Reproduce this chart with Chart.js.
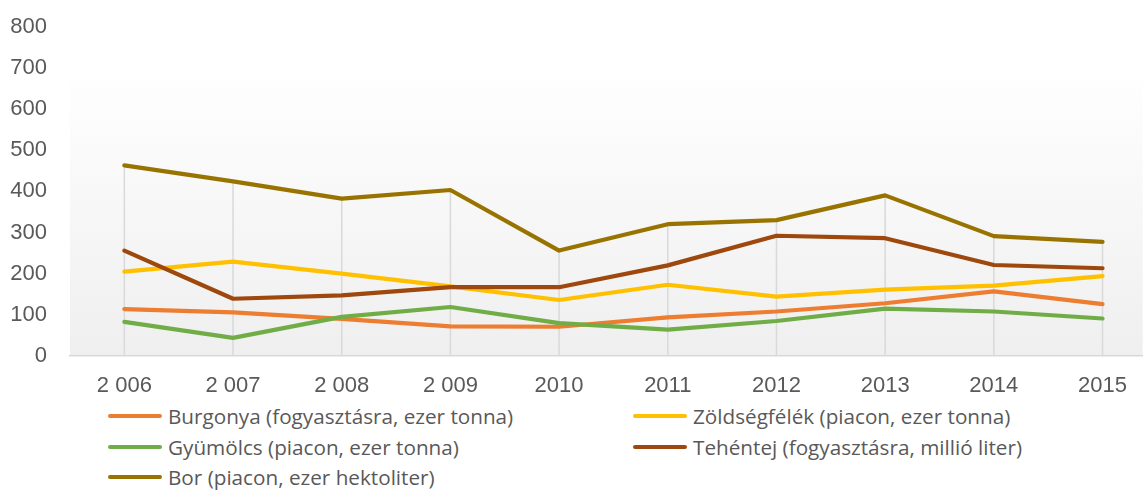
<!DOCTYPE html>
<html>
<head>
<meta charset="utf-8">
<script src="https://cdn.jsdelivr.net/npm/chart.js@4.4.1/dist/chart.umd.min.js"></script>
<style>
  html, body { margin: 0; padding: 0; background: #fff; }
  #wrap { position: relative; width: 1144px; height: 491px; overflow: hidden; }
  #chart { position: absolute; left: 0; top: 0; }
  #legend {
    position: absolute; left: 108px; top: 401px;
    display: grid; grid-template-columns: 525px 420px;
    grid-auto-rows: 30.5px;
    font-family: "Open Sans", sans-serif; font-size: 20.7px; color: #595959;
  }
  .item { display: flex; align-items: center; white-space: nowrap; }
  .swatch { display: inline-block; width: 54px; height: 4px; border-radius: 2px; margin-right: 6px; }
</style>
</head>
<body>
<div id="wrap">
  <canvas id="chart" width="1144" height="400"></canvas>
  <div id="legend"></div>
</div>
<script>
const years = ["2 006", "2 007", "2 008", "2 009", "2010", "2011", "2012", "2013", "2014", "2015"];

const burgonya = [114, 106, 90, 72, 71, 94, 108, 128, 157, 126];
const zoldseg = [205, 229, 200, 169, 136, 173, 144, 161, 171, 194];
const gyumolcs = [83, 44, 95, 119, 80, 64, 85, 115, 108, 91];
const tehentej = [256, 139, 147, 167, 167, 220, 292, 286, 221, 213];
const bor = [463, 424, 382, 403, 256, 320, 330, 390, 291, 277];

const series = [
  { label: "Burgonya (fogyasztásra, ezer tonna)", data: burgonya, color: "#ed7d31" },
  { label: "Zöldségfélék (piacon, ezer tonna)", data: zoldseg, color: "#ffc000" },
  { label: "Gyümölcs (piacon, ezer tonna)", data: gyumolcs, color: "#70ad47" },
  { label: "Tehéntej (fogyasztásra, millió liter)", data: tehentej, color: "#9e480e" },
  { label: "Bor (piacon, ezer hektoliter)", data: bor, color: "#997300" },
];

const axisFont = { family: "'Liberation Sans', Arial, sans-serif", size: 22 };

// plot area gradient
const bgPlugin = {
  id: "bg",
  beforeDraw(chart) {
    const { ctx, chartArea: a } = chart;
    const g = ctx.createLinearGradient(0, a.top, 0, a.bottom);
    g.addColorStop(0, "#ffffff");
    g.addColorStop(0.12, "#ffffff");
    g.addColorStop(1, "#efefef");
    ctx.save();
    ctx.fillStyle = g;
    ctx.fillRect(a.left, 0, a.right - a.left, a.bottom);
    ctx.restore();
  },
};

// drop lines from the highest series down to the axis
const dropLines = {
  id: "dropLines",
  beforeDatasetsDraw(chart) {
    const { ctx, scales } = chart;
    ctx.save();
    ctx.strokeStyle = "#d9d9d9";
    ctx.lineWidth = 1.5;
    years.forEach((_, i) => {
      const top = Math.max(...series.map((s) => s.data[i]));
      const x = scales.x.getPixelForValue(i);
      ctx.beginPath();
      ctx.moveTo(x, scales.y.getPixelForValue(top));
      ctx.lineTo(x, scales.y.getPixelForValue(0));
      ctx.stroke();
    });
    ctx.restore();
  },
};

new Chart(document.getElementById("chart"), {
  type: "line",
  data: {
    datasets: series.map((s, k) => ({
      label: s.label,
      data: s.data.map((v, i) => ({ x: i, y: v })),
      borderColor: s.color,
      backgroundColor: s.color,
      borderWidth: 4.2,
      borderCapStyle: "round",
      borderJoinStyle: "round",
      pointRadius: 0,
      tension: 0,
      order: series.length - k,
    })),
  },
  options: {
    responsive: false,
    animation: false,
    layout: { padding: { top: 26.5, right: 0, bottom: 0, left: 0 } },
    plugins: { legend: { display: false }, tooltip: { enabled: false } },
    scales: {
      x: {
        type: "linear",
        min: -0.5,
        max: 9.37,
        afterBuildTicks: (scale) => {
          scale.ticks = years.map((_, i) => ({ value: i }));
        },
        afterFit: (scale) => { scale.height = 44; },
        grid: { display: false, drawTicks: false },
        border: { display: true, color: "#d9d9d9", width: 1.5 },
        ticks: {
          autoSkip: false,
          maxRotation: 0,
          padding: 17,
          color: "#595959",
          font: axisFont,
          callback: (v) => years[v],
        },
      },
      y: {
        min: 0,
        max: 800,
        afterFit: (scale) => { scale.width = 70; },
        grid: { display: true, drawOnChartArea: false, drawTicks: true, tickLength: 23, color: "rgba(0,0,0,0)" },
        border: { display: false },
        ticks: { stepSize: 100, padding: 0, color: "#595959", font: axisFont },
      },
    },
  },
  plugins: [bgPlugin, dropLines],
});

const legend = document.getElementById("legend");
series.forEach((s) => {
  const item = document.createElement("div");
  item.className = "item";
  item.innerHTML = `<span class="swatch" style="background:${s.color}"></span><span>${s.label}</span>`;
  legend.appendChild(item);
});
</script>
</body>
</html>
